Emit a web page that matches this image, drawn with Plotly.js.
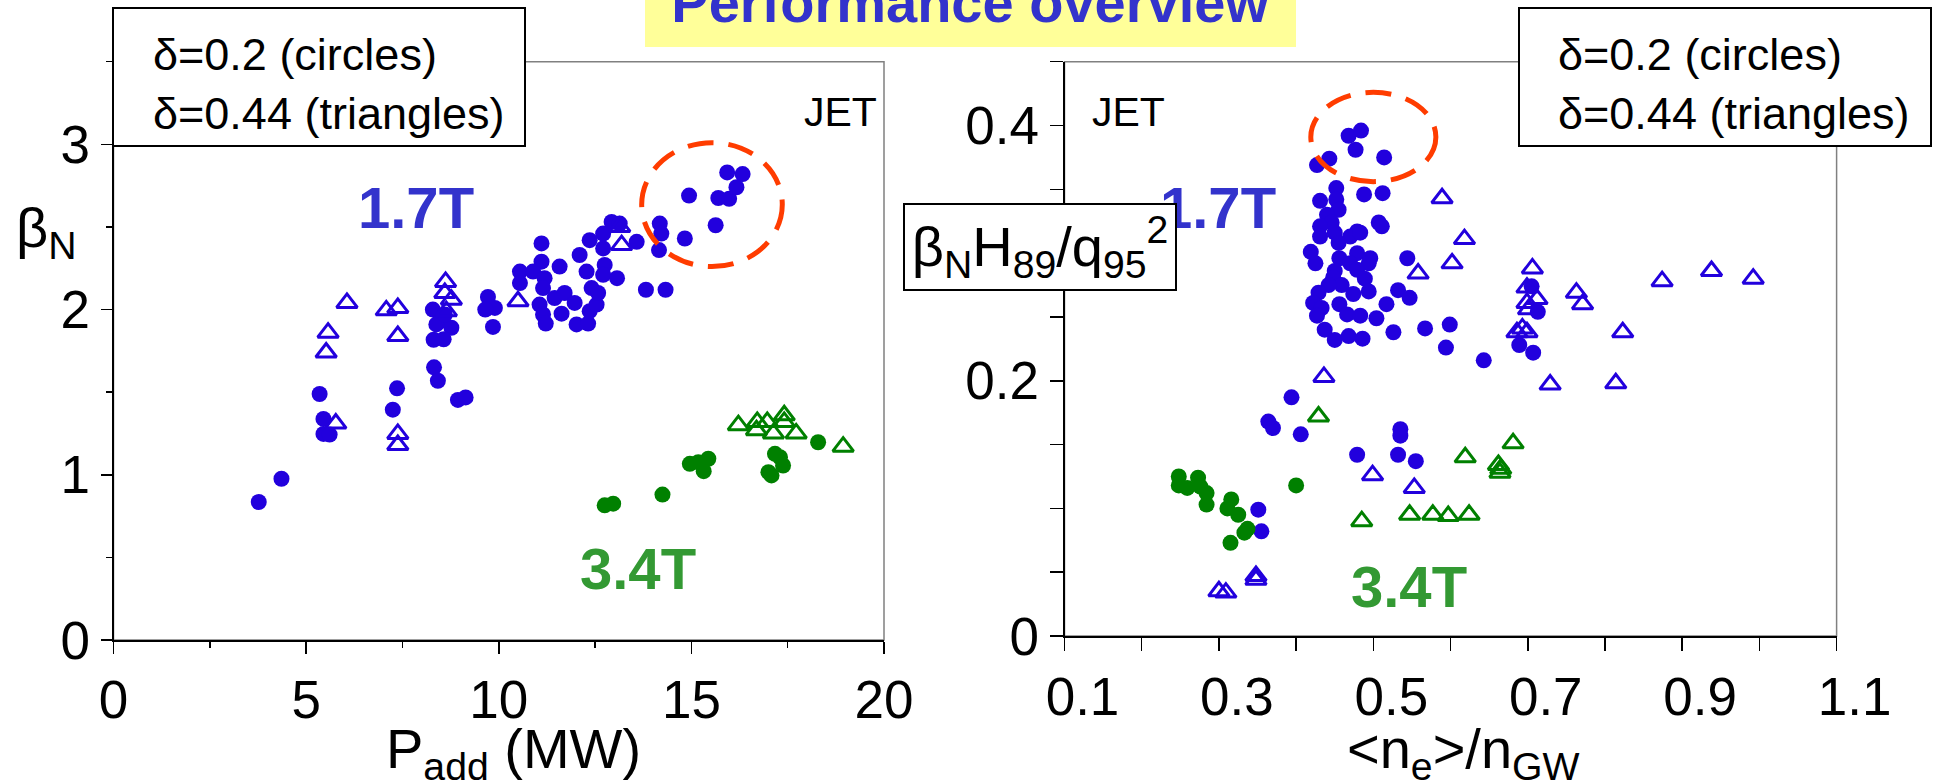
<!DOCTYPE html>
<html>
<head>
<meta charset="utf-8">
<script src="https://cdn.plot.ly/plotly-3.0.1.min.js"></script>
<style>html,body{margin:0;padding:0;background:#fff;}#chart{width:1934px;height:783px;}</style>
</head>
<body>
<div id="chart"></div>
<script>
// ---------- DATA ----------
// Left panel: P_add (MW) vs beta_N
const leftBlueCircX = [3.77,4.36,5.35,5.45,5.45,5.61,7.36,7.25,8.32,8.42,8.94,9.14,8.29,8.47,8.77,8.31,8.57,8.38,8.60,9.72,9.90,9.85,9.65,
  10.55,10.55,11.11,11.11,10.89,11.19,11.58,11.15,11.06,11.15,11.22,11.45,11.71,11.63,11.97,12.02,12.32,12.36,12.54,12.41,12.58,12.28,12.10,12.36,12.71,12.93,13.14,12.71,12.75,12.71,13.07,13.58,13.82,14.33,14.18,14.22,14.16,14.83,14.94,15.63,15.70,15.98,15.93,16.33,16.17];
const leftBlueCircY = [0.835,0.976,1.489,1.338,1.247,1.243,1.523,1.394,1.65,1.569,1.453,1.468,2.00,1.93,1.89,1.817,1.82,1.91,1.97,2.076,2.01,1.895,2.00,
  2.23,2.16,2.40,2.29,2.23,2.19,2.26,2.13,2.03,1.97,1.915,2.07,2.10,1.975,2.04,1.91,1.915,1.99,2.03,2.13,2.10,2.23,2.33,2.42,2.46,2.53,2.52,2.37,2.27,2.21,2.19,2.41,2.12,2.12,2.52,2.46,2.36,2.43,2.69,2.51,2.675,2.67,2.83,2.82,2.74];
const leftBlueTriX = [6.06,5.57,5.52,7.08,7.38,7.38,5.77,7.38,7.38,8.62,8.60,8.77,8.64,10.5,13.14,13.19];
const leftBlueTriY = [2.04,1.86,1.74,1.995,2.01,1.84,1.31,1.247,1.18,2.167,2.10,2.06,1.99,2.05,2.50,2.39];
const leftGreenCircX = [12.75,12.97,14.25,14.96,15.18,15.44,15.32,17.17,17.30,17.38,17.00,17.08,18.29];
const leftGreenCircY = [0.815,0.825,0.88,1.066,1.076,1.097,1.022,1.127,1.106,1.056,1.016,0.996,1.197];
const leftGreenTriX = [16.22,16.69,16.71,16.97,17.13,17.41,17.41,17.72,18.94];
const leftGreenTriY = [1.30,1.27,1.32,1.32,1.25,1.36,1.32,1.25,1.17];

// Right panel: <n_e>/n_GW vs beta_N H89 / q95^2
const rightBlueCircX = [0.468,0.484,0.477,0.514,0.427,0.443,0.452,0.431,0.488,0.512,0.452,0.455,0.440,0.446,0.431,0.431,0.450,0.507,0.511,0.479,0.470,0.483,0.455,0.419,0.425,0.479,0.496,0.456,0.494,0.470,0.479,0.450,0.544,0.489,0.448,0.459,0.494,0.442,0.429,0.474,0.422,0.433,0.456,0.466,0.483,0.504,0.517,0.532,0.547,0.427,0.437,0.450,0.468,0.486,0.526,0.567,0.599,0.594,0.643,0.394,0.705,0.713,0.689,0.707,0.364,0.370,0.406,0.479,0.535,0.535,0.532,0.555,0.351,0.355];
const rightBlueCircY = [0.392,0.396,0.381,0.375,0.369,0.374,0.351,0.341,0.346,0.347,0.342,0.334,0.330,0.324,0.321,0.313,0.316,0.324,0.321,0.317,0.313,0.316,0.308,0.301,0.292,0.300,0.296,0.296,0.292,0.292,0.287,0.286,0.296,0.280,0.281,0.275,0.270,0.275,0.269,0.268,0.261,0.257,0.260,0.252,0.251,0.249,0.260,0.271,0.265,0.251,0.240,0.232,0.235,0.233,0.238,0.241,0.244,0.226,0.216,0.187,0.274,0.254,0.228,0.222,0.168,0.163,0.158,0.142,0.162,0.157,0.142,0.137,0.099,0.082];
const rightBlueTriX = [0.589,0.618,0.602,0.558,0.436,0.706,0.699,0.712,0.699,0.701,0.686,0.699,0.693,0.763,0.771,0.874,0.938,0.992,0.823,0.729,0.814,0.499,0.553,0.300,0.309,0.348,0.348];
const rightBlueTriY = [0.343,0.311,0.292,0.284,0.203,0.288,0.273,0.264,0.261,0.256,0.238,0.238,0.241,0.269,0.260,0.278,0.286,0.280,0.238,0.197,0.198,0.126,0.116,0.035,0.034,0.044,0.047];
const rightGreenCircX = [0.248,0.248,0.259,0.273,0.276,0.284,0.284,0.316,0.311,0.325,0.337,0.333,0.315,0.400];
const rightGreenCircY = [0.125,0.118,0.116,0.124,0.117,0.112,0.103,0.107,0.100,0.095,0.084,0.081,0.073,0.118];
const rightGreenTriX = [0.429,0.485,0.547,0.577,0.597,0.624,0.619,0.662,0.665,0.664,0.681];
const rightGreenTriY = [0.172,0.090,0.095,0.095,0.094,0.095,0.140,0.134,0.131,0.128,0.151];

// Tick labels
const leftXTicks = [0,5,10,15,20];
const leftXTickText = ['0','5','10','15','20'];
const leftYTicks = [0,1,2,3];
const leftYTickText = ['0','1','2','3'];
const rightXTicks = [0.1,0.3,0.5,0.7,0.9,1.1];
const rightXTickText = ['0.1','0.3','0.5','0.7','0.9','1.1'];
const rightYTicks = [0,0.2,0.4];
const rightYTickText = ['0','0.2','0.4'];

// ---------- STYLE ----------
const W = 1934, H = 783;
const px = v => v / W;
const py = v => 1 - v / H;
const FONT = 'Liberation Sans, Arial, sans-serif';
const BLUE = '#2200dd';
const GREEN = '#008000';
const LBLUE = '#3333cc';
const LGREEN = '#339933';

function circ(x, y, color, xa, ya) {
  return {x: x, y: y, xaxis: xa, yaxis: ya, type: 'scatter', mode: 'markers',
    marker: {symbol: 'circle', size: 16, color: color, line: {width: 0}}, hoverinfo: 'skip'};
}
function tri(x, y, color, xa, ya) {
  return {x: x, y: y, xaxis: xa, yaxis: ya, type: 'scatter', mode: 'markers',
    marker: {symbol: 'triangle-up-open', size: 18, color: color, line: {width: 3, color: color}}, hoverinfo: 'skip'};
}

const data = [
  circ(leftBlueCircX, leftBlueCircY, BLUE, 'x', 'y'),
  tri(leftBlueTriX, leftBlueTriY, BLUE, 'x', 'y'),
  circ(leftGreenCircX, leftGreenCircY, GREEN, 'x', 'y'),
  tri(leftGreenTriX, leftGreenTriY, GREEN, 'x', 'y'),
  circ(rightBlueCircX, rightBlueCircY, BLUE, 'x2', 'y2'),
  tri(rightBlueTriX, rightBlueTriY, BLUE, 'x2', 'y2'),
  circ(rightGreenCircX, rightGreenCircY, GREEN, 'x2', 'y2'),
  tri(rightGreenTriX, rightGreenTriY, GREEN, 'x2', 'y2')
];

const tickFont = {family: FONT, size: 53, color: '#000'};
function axisBase() {
  return {showgrid: false, zeroline: false, showline: true, linecolor: '#000', linewidth: 2,
    ticks: 'outside', tickcolor: '#000', tickwidth: 1.5, tickfont: tickFont, tickmode: 'array', fixedrange: true};
}

const layout = {
  width: W, height: H,
  margin: {l: 0, r: 0, t: 0, b: 0},
  paper_bgcolor: '#fff', plot_bgcolor: 'rgba(0,0,0,0)',
  showlegend: false,
  title: {text: 'Performance overview', x: 0.5016, xanchor: 'center', xref: 'paper',
    y: 0.9967, yanchor: 'middle', yref: 'container',
    font: {family: FONT, size: 56, color: LBLUE, weight: 'bold'}},
  xaxis: Object.assign(axisBase(), {domain: [px(113.5), px(884)], range: [0, 20], anchor: 'y',
    tickvals: leftXTicks, ticktext: leftXTickText, ticklen: 12,
    minor: {tickvals: [2.5, 7.5, 12.5, 17.5], ticks: 'outside', ticklen: 6, tickcolor: '#000', tickwidth: 1.5}}),
  yaxis: Object.assign(axisBase(), {domain: [py(640), py(61.7)], range: [0, 3.5], anchor: 'x',
    tickvals: leftYTicks, ticktext: leftYTickText, ticklen: 11,
    minor: {tickvals: [0.5, 1.5, 2.5, 3.5], ticks: 'outside', ticklen: 6, tickcolor: '#000', tickwidth: 1.5}}),
  xaxis2: Object.assign(axisBase(), {domain: [px(1064.5), px(1836.6)], range: [0.1, 1.1], anchor: 'y2',
    tickvals: rightXTicks, ticktext: rightXTickText, ticklen: 13, ticklabelshift: 18,
    minor: {tickvals: [0.2, 0.4, 0.6, 0.8, 1.0], ticks: 'outside', ticklen: 13, tickcolor: '#000', tickwidth: 1.5}}),
  yaxis2: Object.assign(axisBase(), {domain: [py(636), py(61.7)], range: [0, 0.45], anchor: 'x2',
    tickvals: rightYTicks, ticktext: rightYTickText, ticklen: 13,
    minor: {tickvals: [0.05, 0.1, 0.15, 0.25, 0.3, 0.35, 0.45], ticks: 'outside', ticklen: 13, tickcolor: '#000', tickwidth: 1.5}}),
  shapes: [
    {type: 'rect', xref: 'paper', yref: 'paper', x0: px(645), x1: px(1296), y0: py(47), y1: 1,
      fillcolor: '#ffff99', line: {width: 0}, layer: 'below'},
    {type: 'rect', xref: 'x domain', yref: 'y domain', x0: 0, x1: 1, y0: 0, y1: 1,
      line: {color: '#808080', width: 1.5}, layer: 'below'},
    {type: 'rect', xref: 'x2 domain', yref: 'y2 domain', x0: 0, x1: 1, y0: 0, y1: 1,
      line: {color: '#808080', width: 1.5}, layer: 'below'},
    {type: 'rect', xref: 'paper', yref: 'paper', x0: px(113), x1: px(525), y0: py(146), y1: py(8),
      fillcolor: '#fff', line: {color: '#000', width: 2}, layer: 'above'},
    {type: 'rect', xref: 'paper', yref: 'paper', x0: px(1519), x1: px(1931), y0: py(146), y1: py(8),
      fillcolor: '#fff', line: {color: '#000', width: 2}, layer: 'above'},
    {type: 'circle', xref: 'x', yref: 'y', x0: 13.71, x1: 17.36, y0: 2.26, y1: 3.01,
      line: {color: '#ff3c00', width: 5, dash: '26px,15px'}},
    {type: 'circle', xref: 'x2', yref: 'y2', x0: 0.419, x1: 0.581, y0: 0.356, y1: 0.426,
      line: {color: '#ff3c00', width: 5, dash: '26px,15px'}}
  ],
  annotations: [
    {text: 'JET', xref: 'paper', yref: 'paper', x: px(840), y: py(112), xanchor: 'center', yanchor: 'middle',
      showarrow: false, font: {family: FONT, size: 41, color: '#000'}},
    {text: 'JET', xref: 'paper', yref: 'paper', x: px(1128), y: py(112), xanchor: 'center', yanchor: 'middle',
      showarrow: false, font: {family: FONT, size: 41, color: '#000'}},
    {text: '1.7T', xref: 'paper', yref: 'paper', x: px(416), y: py(208), xanchor: 'center', yanchor: 'middle',
      showarrow: false, font: {family: FONT, size: 58, color: LBLUE, weight: 'bold'}},
    {text: '1.7T', xref: 'paper', yref: 'paper', x: px(1218), y: py(208), xanchor: 'center', yanchor: 'middle',
      showarrow: false, font: {family: FONT, size: 58, color: LBLUE, weight: 'bold'}},
    {text: '3.4T', xref: 'paper', yref: 'paper', x: px(638), y: py(568), xanchor: 'center', yanchor: 'middle',
      showarrow: false, font: {family: FONT, size: 58, color: LGREEN, weight: 'bold'}},
    {text: '3.4T', xref: 'paper', yref: 'paper', x: px(1409), y: py(586), xanchor: 'center', yanchor: 'middle',
      showarrow: false, font: {family: FONT, size: 58, color: LGREEN, weight: 'bold'}},
    {text: 'δ=0.2 (circles)<br>δ=0.44 (triangles)', xref: 'paper', yref: 'paper', x: px(151), y: py(84),
      xanchor: 'left', yanchor: 'middle', align: 'left', showarrow: false, font: {family: FONT, size: 45, color: '#000'}},
    {text: 'δ=0.2 (circles)<br>δ=0.44 (triangles)', xref: 'paper', yref: 'paper', x: px(1556), y: py(84),
      xanchor: 'left', yanchor: 'middle', align: 'left', showarrow: false, font: {family: FONT, size: 45, color: '#000'}},
    {text: 'P<sub>add</sub> (MW)', xref: 'paper', yref: 'paper', x: px(513), y: py(752), xanchor: 'center', yanchor: 'middle',
      showarrow: false, font: {family: FONT, size: 56, color: '#000'}},
    {text: '&lt;n<sub>e</sub>&gt;/n<sub>GW</sub>', xref: 'paper', yref: 'paper', x: px(1463), y: py(752), xanchor: 'center', yanchor: 'middle',
      showarrow: false, font: {family: FONT, size: 56, color: '#000'}},
    {text: 'β<sub>N</sub>', xref: 'paper', yref: 'paper', x: px(46), y: py(231), xanchor: 'center', yanchor: 'middle',
      showarrow: false, font: {family: FONT, size: 56, color: '#000'}},
    {text: 'β<sub>N</sub>H<sub>89</sub>/q<sub>95</sub><sup>2</sup>', xref: 'paper', yref: 'paper', x: px(1040), y: py(247),
      xanchor: 'center', yanchor: 'middle', align: 'center', showarrow: false,
      width: 270, height: 84, bgcolor: '#fff', bordercolor: '#000', borderwidth: 2, borderpad: 0,
      font: {family: FONT, size: 56, color: '#000'}}
  ]
};

Plotly.newPlot('chart', data, layout, {staticPlot: true, displayModeBar: false});
</script>
</body>
</html>
